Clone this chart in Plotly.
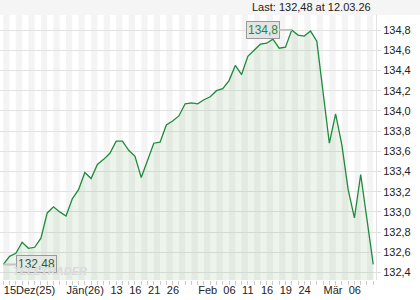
import plotly.graph_objects as go

# ---- data ----
dates = [
    "2025-12-15", "2025-12-16", "2025-12-17", "2025-12-18", "2025-12-19",
    "2025-12-22", "2025-12-23", "2025-12-29", "2025-12-30", "2025-12-31",
    "2026-01-02", "2026-01-05", "2026-01-06", "2026-01-07", "2026-01-08",
    "2026-01-09", "2026-01-12", "2026-01-13", "2026-01-14", "2026-01-15",
    "2026-01-16", "2026-01-19", "2026-01-20", "2026-01-21", "2026-01-22",
    "2026-01-23", "2026-01-26", "2026-01-27", "2026-01-28", "2026-01-29",
    "2026-01-30", "2026-02-02", "2026-02-03", "2026-02-04", "2026-02-05",
    "2026-02-06", "2026-02-09", "2026-02-10", "2026-02-11", "2026-02-12",
    "2026-02-13", "2026-02-16", "2026-02-17", "2026-02-18", "2026-02-19",
    "2026-02-20", "2026-02-23", "2026-02-24", "2026-02-25", "2026-02-26",
    "2026-02-27", "2026-03-02", "2026-03-03", "2026-03-04", "2026-03-05",
    "2026-03-06", "2026-03-09", "2026-03-10", "2026-03-11", "2026-03-12",
]
prices = [
    132.48, 132.56, 132.59, 132.70, 132.64, 132.65, 132.74, 132.99, 133.05, 133.00,
    132.96, 133.13, 133.22, 133.39, 133.33, 133.47, 133.52, 133.58, 133.70, 133.70,
    133.61, 133.55, 133.34, 133.50, 133.68, 133.69, 133.86, 133.90, 133.95, 134.07,
    134.08, 134.07, 134.11, 134.14, 134.20, 134.22, 134.30, 134.45, 134.36, 134.54,
    134.60, 134.66, 134.67, 134.71, 134.62, 134.63, 134.80, 134.75, 134.74, 134.79,
    134.69, 134.19, 133.68, 133.97, 133.66, 133.22, 132.94, 133.37, 132.92, 132.48,
]
tick_dates = ["2025-12-15", "2026-01-02", "2026-01-13", "2026-01-16", "2026-01-21",
              "2026-01-26", "2026-02-02", "2026-02-06", "2026-02-11", "2026-02-16",
              "2026-02-19", "2026-02-24", "2026-03-02", "2026-03-06"]
tick_labels = ["15Dez(25)", "Jän(26)", "13", "16", "21", "26", "Feb", "06", "11",
               "16", "19", "24", "Mär", "06"]
y_ticks = [132.4, 132.6, 132.8, 133.0, 133.2, 133.4, 133.6, 133.8, 134.0, 134.2,
           134.4, 134.6, 134.8]
last_label_date = "12.03.26"


def fmt(v):
    s = f"{v:.2f}".rstrip("0").rstrip(".")
    return s.replace(".", ",")


x = list(range(len(dates)))
tick_idx = [dates.index(d) for d in tick_dates]

LINE = "#1e8a3c"
FONT = "Liberation Sans, Arial, sans-serif"

fig = go.Figure()
fig.add_trace(go.Scatter(
    x=x, y=prices, mode="lines",
    line=dict(color=LINE, width=1.3),
    fill="tozeroy", fillcolor="rgba(110,165,100,0.12)",
    hoverinfo="skip",
))

shapes = []
# header band
shapes.append(dict(type="rect", xref="paper", yref="paper", x0=0, x1=1.2,
                   y0=1, y1=1.1, fillcolor="#f5f5f5", line_width=0, layer="below"))
# alternating day stripes
for i in x:
    if i % 2 == 0:
        shapes.append(dict(type="rect", xref="x", yref="paper", x0=i, x1=i + 1,
                           y0=0, y1=1, fillcolor="#f4f4f4", line_width=0,
                           layer="below"))

imax = prices.index(max(prices))
imin = prices.index(min(prices))

annotations = [
    dict(xref="paper", yref="paper", x=0.992, y=1.0, yshift=8, xanchor="right",
         yanchor="middle",
         text=f"Last: {fmt(prices[-1])} at {last_label_date}", showarrow=False,
         font=dict(family=FONT, size=11, color="#222")),
    dict(x=imax, y=prices[imax], text=fmt(prices[imax]), showarrow=True,
         ax=-29, ay=0, arrowhead=0, arrowwidth=2, arrowcolor="#c4c4c4",
         bgcolor="#e4e4e4", bordercolor="#9a9a9a", borderwidth=1, borderpad=1,
         font=dict(family=FONT, size=12, color=LINE)),
    dict(x=imin, y=prices[imin], text=fmt(prices[imin]), showarrow=True,
         ax=33, ay=0, arrowhead=0, arrowwidth=2, arrowcolor="#c4c4c4",
         bgcolor="rgba(228,228,228,0.7)", bordercolor="#9a9a9a", borderwidth=1,
         borderpad=1, font=dict(family=FONT, size=12, color="#2d5e2d")),
    dict(xref="paper", yref="paper", x=0.03, y=0.0, yshift=1, xanchor="left",
         yanchor="bottom", text="<b><i>TELETRADER</i></b>", showarrow=False,
         font=dict(family=FONT, size=11, color="#dadada")),
]

fig.update_layout(
    width=420, height=300,
    margin=dict(l=0, r=44, t=15, b=20),
    paper_bgcolor="white", plot_bgcolor="white",
    separators=",.",
    showlegend=False,
    shapes=shapes,
    annotations=annotations,
    xaxis=dict(
        range=[-0.53, 59.44], showgrid=False, zeroline=False,
        tickvals=tick_idx, ticktext=tick_labels, tickangle=0, automargin=False,
        ticklabelposition="outside right",
        ticks="outside", ticklen=4, tickcolor="#cccccc",
        minor=dict(dtick=1, tick0=0, ticks="outside", ticklen=4,
                   tickcolor="#cccccc", showgrid=False),
        tickfont=dict(family=FONT, size=11, color="#222"),
        showline=False, fixedrange=True,
    ),
    yaxis=dict(
        side="right", range=[132.326, 134.949], automargin=False,
        tickvals=y_ticks, tickformat=".1f",
        showgrid=True, gridcolor="#e2e2e2", gridwidth=1, zeroline=False,
        ticks="outside", ticklen=4, tickcolor="#dddddd",
        showline=True, linecolor="#e2e2e2", linewidth=1,
        tickfont=dict(family=FONT, size=11, color="#222"),
        fixedrange=True,
    ),
)

fig.write_html("out.html")
